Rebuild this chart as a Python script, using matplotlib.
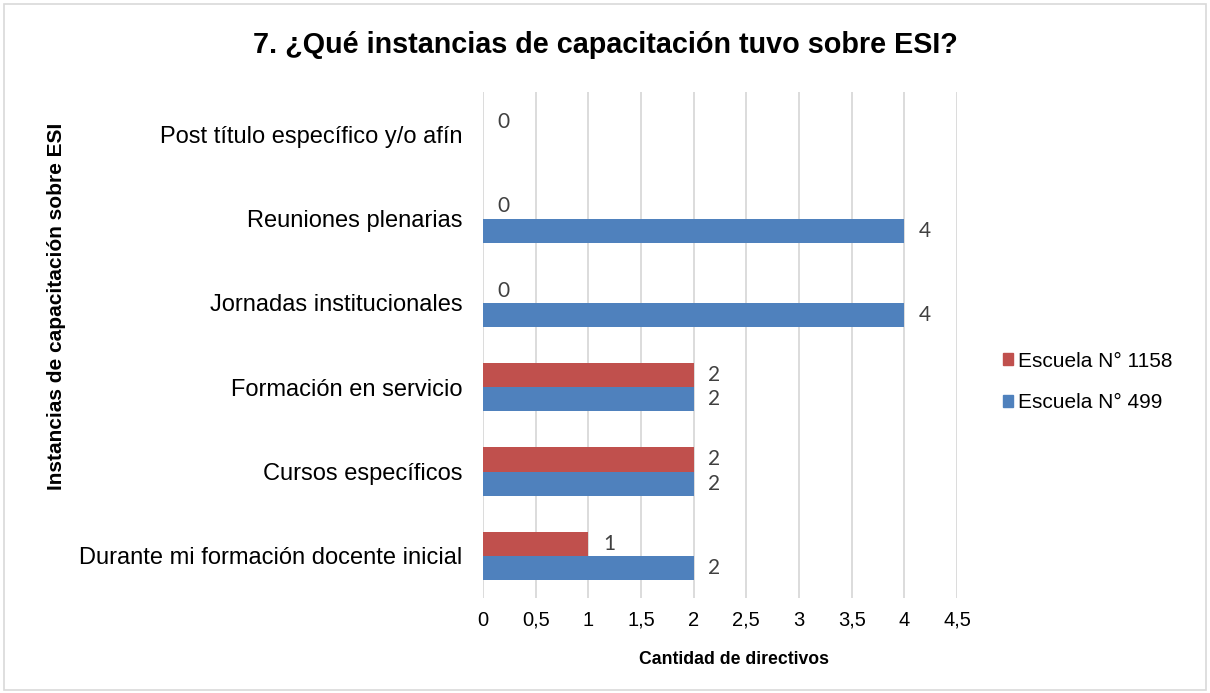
import matplotlib
matplotlib.use("Agg")
import matplotlib.pyplot as plt
import numpy as np
from matplotlib.patches import Rectangle, Patch

categories = ["Durante mi formación docente inicial", "Cursos específicos",
              "Formación en servicio", "Jornadas institucionales",
              "Reuniones plenarias", "Post título específico y/o afín"]
escuela_1158 = [1, 2, 2, 0, 0, 0]
escuela_499 = [2, 2, 2, 4, 4, None]
series_names = ["Escuela N° 1158", "Escuela N° 499"]
xticks = [0, 0.5, 1, 1.5, 2, 2.5, 3, 3.5, 4, 4.5]
xtick_labels = ["0", "0,5", "1", "1,5", "2", "2,5", "3", "3,5", "4", "4,5"]

RED = "#C0504D"
BLUE = "#4F81BD"

plt.rcParams["font.family"] = ["Liberation Sans", "DejaVu Sans"]

fig = plt.figure(figsize=(12.10, 6.93), dpi=100)
fig.patches.append(Rectangle((0.003, 0.004), 0.994, 0.99, transform=fig.transFigure,
                             fill=False, edgecolor="#D9D9D9", linewidth=1.2))
ax = fig.add_axes([483/1210, 1-598/693, (957-483)/1210, (598-92)/693])

y = np.arange(len(categories))
h = 1/3.5
red_vals = [np.nan if v is None else v for v in escuela_1158]
blue_vals = [np.nan if v is None else v for v in escuela_499]
ax.barh(y + h/2, red_vals, height=h, color=RED, zorder=3)
ax.barh(y - h/2, blue_vals, height=h, color=BLUE, zorder=3)

for vals, off in ((escuela_1158, h/2), (escuela_499, -h/2)):
    for i, v in enumerate(vals):
        if v is None:
            continue
        ax.annotate(str(v), (v, i + off), xytext=(10.5, 0), textcoords="offset points",
                    ha="left", va="center", fontsize=15, color="#404040",
                    family=["Lato", "DejaVu Sans"])

ax.set_xlim(0, 4.5)
ax.set_ylim(-0.5, len(categories) - 0.5)
ax.set_xticks(xticks)
ax.set_xticklabels(xtick_labels, fontsize=14.5)
ax.set_yticks(y)
ax.set_yticklabels(categories, fontsize=17)
ax.tick_params(axis="both", length=0)
ax.tick_params(axis="x", pad=9)
ax.tick_params(axis="y", pad=15)
ax.grid(axis="x", color="#D9D9D9", linewidth=1.3, zorder=0)
for s in ax.spines.values():
    s.set_visible(False)

fig.text(0.5, 1-45/693, "7. ¿Qué instancias de capacitación tuvo sobre ESI?",
         ha="center", va="center", fontsize=20.7, fontweight="bold")
fig.text(734/1210, 1-660/693, "Cantidad de directivos", ha="center", va="center",
         fontsize=12.7, fontweight="bold")
fig.text(57/1210, 1-306/693, "Instancias de capacitación sobre ESI", ha="center",
         va="center", rotation=90, fontsize=15, fontweight="bold")

handles = [Patch(color=RED), Patch(color=BLUE)]
fig.legend(handles, series_names, loc="center left", bbox_to_anchor=(984/1210, 1-382/693),
           frameon=False, fontsize=15, handlelength=0.5, handleheight=0.5,
           handletextpad=0.25, labelspacing=1.1)

fig.savefig("out.png", dpi=100)
